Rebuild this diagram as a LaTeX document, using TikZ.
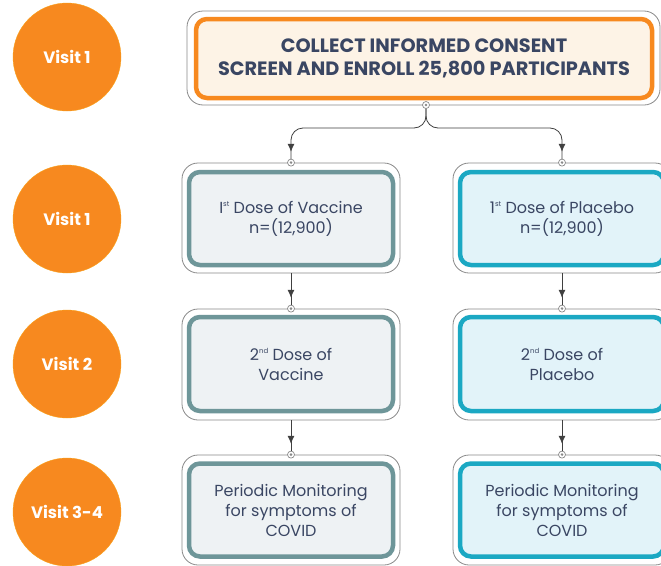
\documentclass[tikz,border=0pt]{standalone}
\usepackage{fontspec}
\setmainfont{Poppins}
\usetikzlibrary{arrows.meta,decorations.markings}
\definecolor{orng}{HTML}{F7891F}
\definecolor{txt}{HTML}{3A4663}
\definecolor{vacc}{HTML}{6E9699}
\definecolor{vaccfill}{HTML}{EEF2F4}
\definecolor{plac}{HTML}{1BA8C3}
\definecolor{placfill}{HTML}{E2F3F9}
\definecolor{cream}{HTML}{FDF3E6}
\definecolor{lgray}{HTML}{8A8A8A}
\newcommand{\supx}[1]{\raisebox{0.8ex}{\fontsize{7}{8}\selectfont #1}}
\begin{document}
\begin{tikzpicture}[x=1pt,y=-1pt,
  visit/.style={circle,fill=orng,draw=orng!80!yellow,minimum size=108pt,inner sep=0pt,text=white,font=\fontsize{16.5}{18}\selectfont\bfseries},
  outerbox/.style={draw=lgray,line width=0.8pt,fill=white,rounded corners=16pt,minimum width=218pt,minimum height=110pt,inner sep=0pt},
  vbox/.style={draw=vacc,fill=vaccfill,line width=4.5pt,rounded corners=11pt,minimum width=204pt,minimum height=93pt,inner sep=0pt,text=txt,align=center,font=\fontsize{16}{20}\selectfont},
  pbox/.style={vbox,draw=plac,fill=placfill},
  dot/.style={circle,draw=lgray,fill=white,line width=0.7pt,minimum size=7pt,inner sep=0pt,
    path picture={\fill[lgray] (path picture bounding box.center) circle (1.4pt);}},
  conn/.style={draw=black!75,line width=0.8pt,postaction={decorate},
    decoration={markings,mark=at position -7pt with {\arrow{Latex[length=8pt,width=7pt]}}}}
]
\useasboundingbox (0,0) rectangle (661,565);
\clip (0,0) rectangle (661,565);
\fill[white] (0,0) rectangle (661,565);

% visit circles
\node[visit] (c1) at (67,57) {Visit 1};
\node[visit] (c2) at (67,219) {Visit 1};
\node[visit] (c3) at (67,364) {Visit 2};
\node[visit] (c4) at (67,512) {Visit 3-4};

% top box
\node[outerbox,minimum width=473pt,minimum height=94pt] (o0) at (423.5,58) {};
\node[draw=orng,fill=cream,line width=4.5pt,rounded corners=11pt,minimum width=456pt,minimum height=79pt,inner sep=0pt,
  text=txt,align=center,font=\fontsize{19.3}{23}\selectfont\bfseries] (b0) at (424,58.5)
  {COLLECT INFORMED CONSENT\\SCREEN AND ENROLL 25,800 PARTICIPANTS};

% left column
\node[outerbox] (o1L) at (291,218) {};
\node[vbox] (b1L) at (291,218.5) {I\supx{st} Dose of Vaccine\\n=(12,900)};
\node[outerbox,minimum height=111pt] (o2L) at (291,364.5) {};
\node[vbox,minimum height=94pt] (b2L) at (291,364) {2\supx{nd} Dose of\\Vaccine};
\node[outerbox] (o3L) at (291,510) {};
\node[vbox] (b3L) at (291,510) {Periodic Monitoring\\for symptoms of\\COVID};

% right column
\node[outerbox] (o1R) at (562,218) {};
\node[pbox] (b1R) at (562,218.5) {1\supx{st} Dose of Placebo\\n=(12,900)};
\node[outerbox,minimum height=111pt] (o2R) at (562,364.5) {};
\node[pbox,minimum height=94pt] (b2R) at (562,364) {2\supx{nd} Dose of\\Placebo};
\node[outerbox] (o3R) at (562,510) {};
\node[pbox] (b3R) at (562,510) {Periodic Monitoring\\for symptoms of\\COVID};

% connectors
\coordinate (split) at (426,128);
\node[dot] (d0) at (426,105) {};
\node[dot] (d1L) at (o1L.north) {};
\node[dot] (d1R) at (o1R.north) {};
\node[dot] (d2L) at (o2L.north) {};
\node[dot] (d2R) at (o2R.north) {};
\node[dot] (d3L) at (o3L.north) {};
\node[dot] (d3R) at (o3R.north) {};

\draw[conn,rounded corners=12pt] (d0) -- (split) -| (d1L);
\draw[conn,rounded corners=12pt] (d0) -- (split) -| (d1R);
\draw[conn] (o1L.south) -- (d2L);
\draw[conn] (o1R.south) -- (d2R);
\draw[conn] (o2L.south) -- (d3L);
\draw[conn] (o2R.south) -- (d3R);
\end{tikzpicture}
\end{document}
